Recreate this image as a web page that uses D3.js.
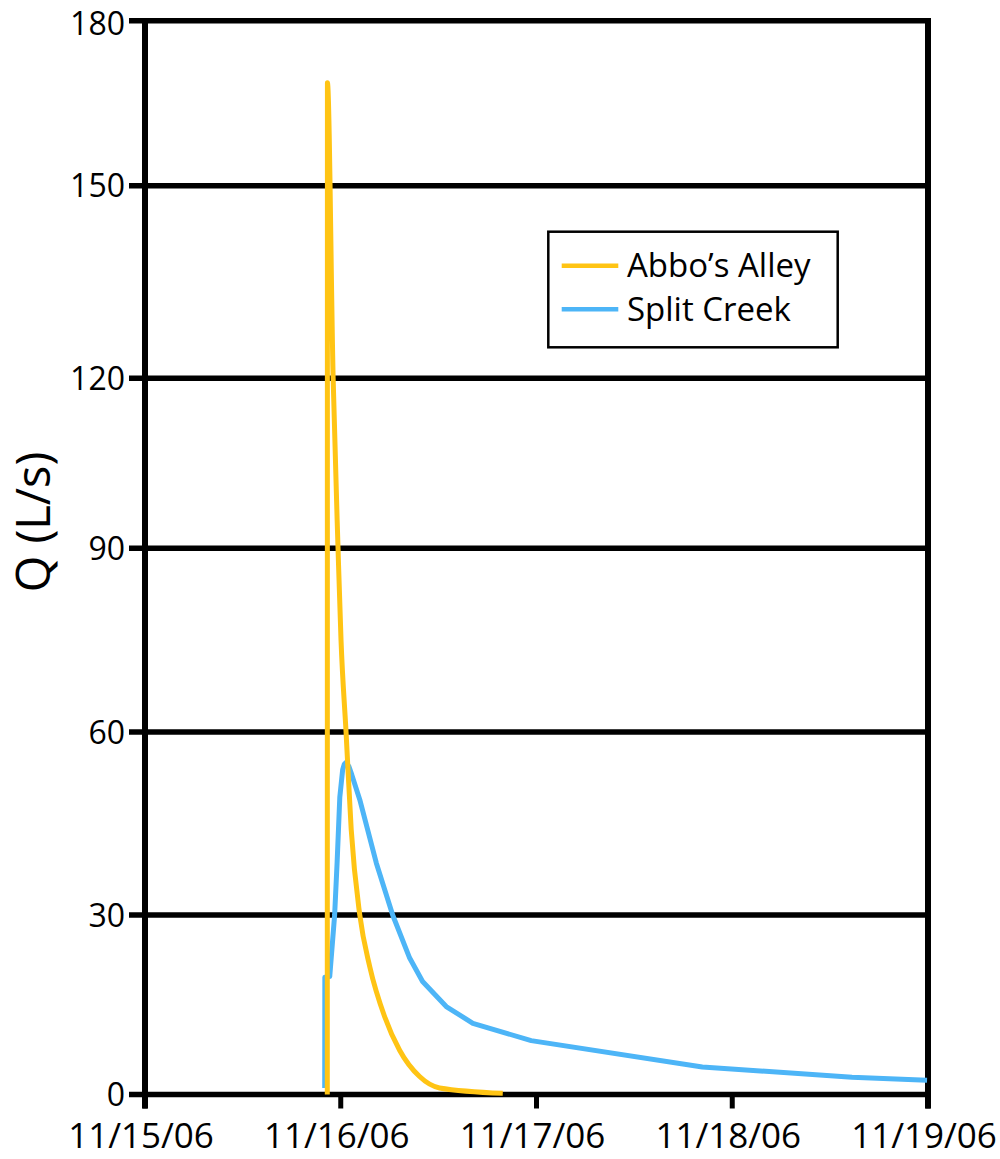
<!DOCTYPE html>
<html>
<head>
<meta charset="utf-8">
<script src="https://cdn.jsdelivr.net/npm/d3@7"></script>
<style>
  html, body { margin: 0; padding: 0; background: #fff; }
  svg { display: block; }
  text { font-family: "Open Sans", "Noto Sans", sans-serif; fill: #000; }
</style>
</head>
<body>
<div id="chart"></div>
<script>
// ---- Data ----
const seriesNames = ["Abbo\u2019s Alley", "Split Creek"];
const seriesColors = ["#FFC414", "#4DB5F7"];

const abboTimes = ["2006-11-15T22:21", "2006-11-15T22:22", "2006-11-15T23:04", "2006-11-15T23:40",
  "2006-11-16T00:02", "2006-11-16T00:39", "2006-11-16T01:17", "2006-11-16T02:20", "2006-11-16T03:33",
  "2006-11-16T05:23", "2006-11-16T07:13", "2006-11-16T09:40", "2006-11-16T12:07", "2006-11-16T19:52"];
const abboQ = [0, 168.7, 120, 90, 75, 60, 44, 30, 21.4, 13.0, 7.4, 3.0, 1.1, 0.2];

const splitTimes = ["2006-11-15T22:02", "2006-11-15T22:03", "2006-11-15T22:39", "2006-11-15T23:15",
  "2006-11-15T23:33", "2006-11-15T23:53", "2006-11-16T00:14", "2006-11-16T00:26", "2006-11-16T00:39",
  "2006-11-16T00:59", "2006-11-16T01:21", "2006-11-16T02:20", "2006-11-16T04:22", "2006-11-16T06:22",
  "2006-11-16T08:27", "2006-11-16T10:02", "2006-11-16T12:56", "2006-11-16T16:12", "2006-11-16T23:21",
  "2006-11-17T20:20", "2006-11-18T14:41", "2006-11-18T23:53"];
const splitQ = [1.1, 19.6, 19.7, 30, 38.5, 49.3, 53.8, 54.7, 55, 54.4, 53, 48.9, 38.5, 30, 22.8, 18.9,
  14.7, 11.9, 9.0, 4.6, 2.9, 2.4];

const yTicks = [0, 30, 60, 90, 120, 150, 180];
const xTickDates = ["2006-11-15", "2006-11-16", "2006-11-17", "2006-11-18", "2006-11-19"];
const xTickLabels = ["11/15/06", "11/16/06", "11/17/06", "11/18/06", "11/19/06"];
const yTitle = "Q (L/s)";

// ---- Layout ----
const W = 1000, H = 1159;
const parseT = d3.timeParse("%Y-%m-%dT%H:%M");
const parseD = d3.timeParse("%Y-%m-%d");

const x = d3.scaleTime()
  .domain([parseD(xTickDates[0]), parseD(xTickDates[xTickDates.length - 1])])
  .range([145, 928]);
// gridlines in the original are unevenly spaced; follow them piecewise
const y = d3.scaleLinear()
  .domain(yTicks)
  .range([1094.5, 915, 732, 548.3, 378.3, 185.7, 20.7]);

const svg = d3.select("#chart").append("svg")
  .attr("width", W).attr("height", H);
svg.append("rect").attr("width", W).attr("height", H).attr("fill", "#fff");

// gridlines (incl. top border and bottom axis)
svg.append("g").selectAll("line").data(yTicks).join("line")
  .attr("x1", 129).attr("x2", 930)
  .attr("y1", d => y(d)).attr("y2", d => y(d))
  .attr("stroke", "#000").attr("stroke-width", 5.5);

// left and right frame
svg.append("line").attr("x1", 145).attr("x2", 145)
  .attr("y1", y(180) - 2.75).attr("y2", y(0) + 14)
  .attr("stroke", "#000").attr("stroke-width", 6);
svg.append("line").attr("x1", x.range()[1]).attr("x2", x.range()[1])
  .attr("y1", y(180) - 2.75).attr("y2", y(0) + 14)
  .attr("stroke", "#000").attr("stroke-width", 6);

// x ticks
svg.append("g").selectAll("line").data(xTickDates).join("line")
  .attr("x1", d => x(parseD(d))).attr("x2", d => x(parseD(d)))
  .attr("y1", y(0)).attr("y2", y(0) + 14)
  .attr("stroke", "#000").attr("stroke-width", 5);

// y tick labels (baseline kept inside the page for the top one)
svg.append("g").selectAll("text").data(yTicks).join("text")
  .attr("x", 125).attr("y", d => Math.max(y(d) + 11.5, 34.5))
  .attr("text-anchor", "end")
  .attr("font-size", 32)
  .text(d => d);

// x tick labels
svg.append("g").selectAll("text").data(xTickDates).join("text")
  .attr("x", d => x(parseD(d)) - 4).attr("y", 1148)
  .attr("text-anchor", "middle")
  .attr("font-size", 35)
  .text((d, i) => xTickLabels[i]);

// y title
svg.append("text")
  .attr("transform", `translate(50,522) rotate(-90)`)
  .attr("text-anchor", "middle")
  .attr("font-size", 47)
  .text(yTitle);

// series
const smoothLine = d3.line()
  .x(d => x(d.t)).y(d => y(d.q))
  .curve(d3.curveMonotoneX);
const straightLine = d3.line()
  .x(d => x(d.t)).y(d => y(d.q));

const abbo = abboTimes.map((t, i) => ({ t: parseT(t), q: abboQ[i] }));
const split = splitTimes.map((t, i) => ({ t: parseT(t), q: splitQ[i] }));

svg.append("path").datum(split)
  .attr("d", straightLine).attr("fill", "none")
  .attr("stroke", seriesColors[1]).attr("stroke-width", 5)
  .attr("stroke-linejoin", "round");
svg.append("path").datum(abbo)
  .attr("d", smoothLine).attr("fill", "none")
  .attr("stroke", seriesColors[0]).attr("stroke-width", 5)
  .attr("stroke-linejoin", "round");

// legend
const lg = svg.append("g");
lg.append("rect").attr("x", 548.3).attr("y", 231.7)
  .attr("width", 289.4).attr("height", 115.6)
  .attr("fill", "#fff").attr("stroke", "#000").attr("stroke-width", 2.5);
seriesNames.forEach((name, i) => {
  const cy = 265.7 + i * 43.6;
  lg.append("line").attr("x1", 561.7).attr("x2", 618.3)
    .attr("y1", cy).attr("y2", cy)
    .attr("stroke", seriesColors[i]).attr("stroke-width", 4.5);
  lg.append("text").attr("x", 627).attr("y", cy + 11.5)
    .attr("font-size", 33)
    .text(name);
});
</script>
</body>
</html>
